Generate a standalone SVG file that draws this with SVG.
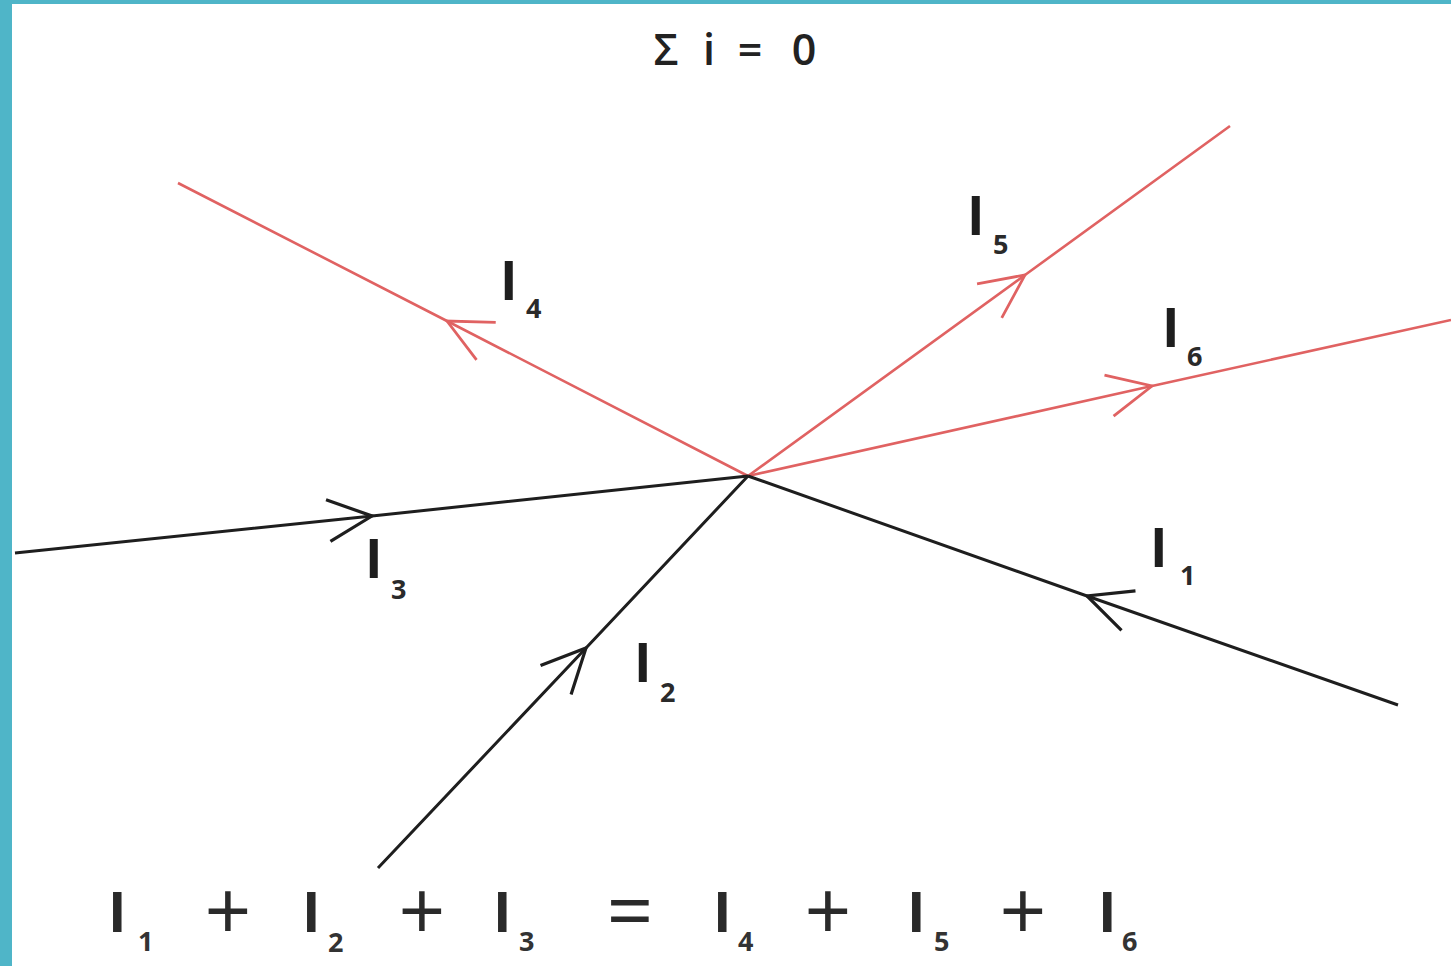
<svg xmlns="http://www.w3.org/2000/svg" width="1451" height="966" viewBox="0 0 1451 966">
<style>
.lbl{font-family:"Open Sans","DejaVu Sans",sans-serif;font-weight:700;fill:#1e1e1e;font-size:53px}
.sub{font-family:"Open Sans","DejaVu Sans",sans-serif;font-weight:700;fill:#2a2a2a;font-size:27px}
.blbl{font-family:"Open Sans","DejaVu Sans",sans-serif;font-weight:700;fill:#2a2a2a;font-size:56px}
.bsub{font-family:"Open Sans","DejaVu Sans",sans-serif;font-weight:700;fill:#333;font-size:27px}
.op{font-family:"Open Sans","DejaVu Sans",sans-serif;font-weight:400;fill:#2a2a2a;font-size:82px;text-anchor:middle}
.title{font-family:"Open Sans","DejaVu Sans",sans-serif;font-weight:600;fill:#222;font-size:43px;text-anchor:middle}
.wk{fill:none;stroke:#1e1e1e;stroke-width:3;marker-mid:url(#chev-k)}
.wr{fill:none;stroke:#e06262;stroke-width:2.6;marker-mid:url(#chev-r)}
</style>
<defs>
<marker id="chev-k" markerUnits="userSpaceOnUse" viewBox="-55 -30 60 60" markerWidth="60" markerHeight="60" refX="0" refY="0" orient="auto" overflow="visible">
<path d="M-44,-21 L0,0 L-44,21" fill="none" stroke="#1e1e1e" stroke-width="3.2"/>
</marker>
<marker id="chev-r" markerUnits="userSpaceOnUse" viewBox="-55 -30 60 60" markerWidth="60" markerHeight="60" refX="0" refY="0" orient="auto" overflow="visible">
<path d="M-44,-21 L0,0 L-44,21" fill="none" stroke="#e06262" stroke-width="2.8"/>
</marker>
</defs>
<rect x="0" y="0" width="1451" height="966" fill="#ffffff"/>
<rect x="0" y="0" width="1451" height="4" fill="#4fb5c8"/>
<rect x="0" y="0" width="12" height="966" fill="#4fb5c8"/>
<text class="title" y="65"><tspan x="666">Σ</tspan><tspan x="709">i</tspan><tspan x="750">=</tspan><tspan x="804">0</tspan></text>
<g id="connectors">
<path id="w4" class="wr" d="M748,476 L447,321 L178,183"/>
<path id="w5" class="wr" d="M748,476 L1025,275 L1230,126"/>
<path id="w6" class="wr" d="M748,476 L1152,386 L1451,320"/>
<path id="w3" class="wk" d="M15,553 L372,516 L748,476"/>
<path id="w1" class="wk" d="M1398,705 L1087,596 L748,476"/>
<path id="w2" class="wk" d="M378,868 L586,648 L748,476"/>
</g>
<g id="label-I4"><text class="lbl" x="500" y="300">I</text><text class="sub" x="526" y="318">4</text></g>
<g id="label-I5"><text class="lbl" x="967" y="235">I</text><text class="sub" x="993" y="254">5</text></g>
<g id="label-I6"><text class="lbl" x="1162" y="347">I</text><text class="sub" x="1187" y="366">6</text></g>
<g id="label-I3"><text class="lbl" x="365" y="578">I</text><text class="sub" x="391" y="599">3</text></g>
<g id="label-I2"><text class="lbl" x="634" y="682">I</text><text class="sub" x="660" y="702">2</text></g>
<g id="label-I1"><text class="lbl" x="1150" y="567">I</text><text class="sub" x="1180" y="585">1</text></g>
<g id="equation">
<text class="blbl" x="108" y="932">I</text><text class="bsub" x="138" y="951">1</text>
<text class="op" x="228" y="940">+</text>
<text class="blbl" x="302" y="932">I</text><text class="bsub" x="328" y="952">2</text>
<text class="op" x="422" y="940">+</text>
<text class="blbl" x="493" y="932">I</text><text class="bsub" x="519" y="951">3</text>
<text class="op" x="630" y="940">=</text>
<text class="blbl" x="713" y="932">I</text><text class="bsub" x="738" y="951">4</text>
<text class="op" x="828" y="940">+</text>
<text class="blbl" x="907" y="932">I</text><text class="bsub" x="934" y="951">5</text>
<text class="op" x="1023" y="940">+</text>
<text class="blbl" x="1098" y="932">I</text><text class="bsub" x="1122" y="951">6</text>
</g>
</svg>
